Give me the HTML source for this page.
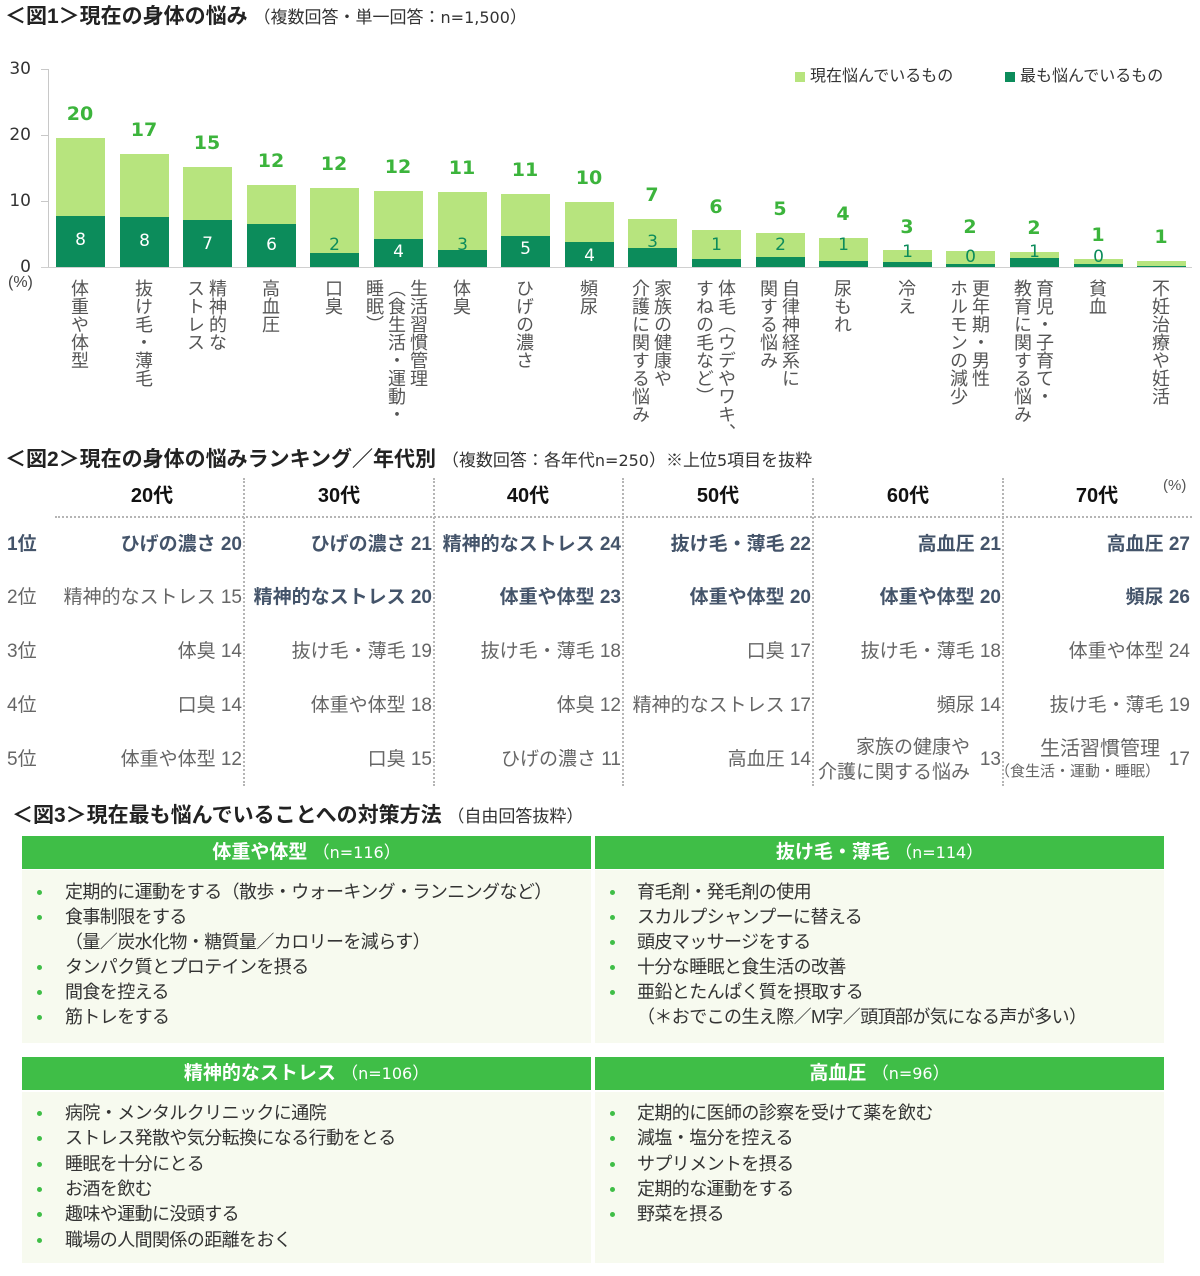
<!DOCTYPE html>
<html><head><meta charset="utf-8">
<style>
*{margin:0;padding:0;box-sizing:border-box}
body{width:1200px;height:1276px;background:#fff;position:relative;overflow:hidden;font-family:"Liberation Sans","Noto Sans CJK JP",sans-serif;color:#333}
.a{position:absolute;white-space:nowrap}
.n{font-family:"DejaVu Sans","Liberation Sans",sans-serif}
.t{font-weight:bold;font-size:21px;line-height:24px;color:#222}
.t span{font-weight:normal;font-size:17px;color:#333}
.yl{position:absolute;left:0;width:31px;text-align:right;font-size:17px;line-height:20px;color:#333;font-family:"DejaVu Sans",sans-serif}
.bl{position:absolute;background:#b7e47e;width:49px}
.bd{position:absolute;background:#0c8c5b;width:49px}
.vt{position:absolute;width:60px;text-align:center;font-weight:bold;font-size:19px;color:#3cb43c;line-height:20px;font-family:"DejaVu Sans",sans-serif}
.vi{position:absolute;width:49px;text-align:center;font-size:17px;line-height:20px;color:#fff;font-family:"DejaVu Sans",sans-serif}
.vi.g{color:#0c8c5b}
.xl{position:absolute;top:279px;writing-mode:vertical-rl;font-size:18px;line-height:22px;color:#555;transform:translateX(-50%);white-space:nowrap}
.vd{position:absolute;top:478px;height:308px;width:0;border-left:2px dotted #b5b5b5}
.hd{position:absolute;font-weight:bold;font-size:20px;line-height:24px;color:#111;width:120px;text-align:center}
.rk{position:absolute;left:7px;font-size:19px;line-height:24px;color:#666}
.c{position:absolute;font-size:19px;line-height:24px;color:#666;text-align:right;white-space:nowrap}
.c.b{font-weight:bold;color:#44546a}
.gh{position:absolute;height:33px;background:#3fbe47;color:#fff;text-align:center;font-size:19px;line-height:33px;font-weight:bold}
.gh span{font-weight:normal;font-size:17px}
.gb{position:absolute;background:#f7faef}
.li{position:absolute;font-size:18px;line-height:25px;color:#333;white-space:nowrap;letter-spacing:-0.6px}
.dot{position:absolute;width:5px;height:5px;border-radius:50%;background:#3fbe47}
</style></head><body>

<!-- Figure 1 -->
<div class="a t" style="left:5px;top:5px">＜図1＞現在の身体の悩み <span>（複数回答・単一回答：<span class="n" style="font-size:16px">n=1,500</span>）</span></div>

<div class="yl" style="top:59px">30</div>
<div class="yl" style="top:125px">20</div>
<div class="yl" style="top:191px">10</div>
<div class="yl" style="top:257px">0</div>
<div class="a" style="left:8px;top:274px;font-size:16px;color:#444">(%)</div>

<div class="a" style="left:48px;top:69px;width:1px;height:198px;background:#c8c8c8"></div>
<div class="a" style="left:41px;top:69px;width:7px;height:1px;background:#c8c8c8"></div>
<div class="a" style="left:41px;top:135px;width:7px;height:1px;background:#c8c8c8"></div>
<div class="a" style="left:41px;top:201px;width:7px;height:1px;background:#c8c8c8"></div>
<div class="a" style="left:41px;top:267px;width:1151px;height:1px;background:#d0d0d0"></div>

<!-- legend -->
<div class="a" style="left:795px;top:72px;width:10px;height:10px;background:#b7e47e"></div>
<div class="a" style="left:810px;top:66px;font-size:16px;line-height:22px;color:#333">現在悩んでいるもの</div>
<div class="a" style="left:1005px;top:72px;width:10px;height:10px;background:#0c8c5b"></div>
<div class="a" style="left:1020px;top:66px;font-size:16px;line-height:22px;color:#333">最も悩んでいるもの</div>

<!-- bars -->
<div class="bl" style="left:56px;top:138px;height:129px"></div><div class="bd" style="left:56px;top:216px;height:51px"></div>
<div class="bl" style="left:120px;top:154px;height:113px"></div><div class="bd" style="left:120px;top:217px;height:50px"></div>
<div class="bl" style="left:183px;top:167px;height:100px"></div><div class="bd" style="left:183px;top:220px;height:47px"></div>
<div class="bl" style="left:247px;top:185px;height:82px"></div><div class="bd" style="left:247px;top:224px;height:43px"></div>
<div class="bl" style="left:310px;top:188px;height:79px"></div><div class="bd" style="left:310px;top:253px;height:14px"></div>
<div class="bl" style="left:374px;top:191px;height:76px"></div><div class="bd" style="left:374px;top:239px;height:28px"></div>
<div class="bl" style="left:438px;top:192px;height:75px"></div><div class="bd" style="left:438px;top:250px;height:17px"></div>
<div class="bl" style="left:501px;top:194px;height:73px"></div><div class="bd" style="left:501px;top:236px;height:31px"></div>
<div class="bl" style="left:565px;top:202px;height:65px"></div><div class="bd" style="left:565px;top:242px;height:25px"></div>
<div class="bl" style="left:628px;top:219px;height:48px"></div><div class="bd" style="left:628px;top:248px;height:19px"></div>
<div class="bl" style="left:692px;top:230px;height:37px"></div><div class="bd" style="left:692px;top:259px;height:8px"></div>
<div class="bl" style="left:756px;top:233px;height:34px"></div><div class="bd" style="left:756px;top:257px;height:10px"></div>
<div class="bl" style="left:819px;top:238px;height:29px"></div><div class="bd" style="left:819px;top:261px;height:6px"></div>
<div class="bl" style="left:883px;top:250px;height:17px"></div><div class="bd" style="left:883px;top:262px;height:5px"></div>
<div class="bl" style="left:946px;top:251px;height:16px"></div><div class="bd" style="left:946px;top:264px;height:3px"></div>
<div class="bl" style="left:1010px;top:252px;height:15px"></div><div class="bd" style="left:1010px;top:258px;height:9px"></div>
<div class="bl" style="left:1074px;top:259px;height:8px"></div><div class="bd" style="left:1074px;top:264px;height:3px"></div>
<div class="bl" style="left:1137px;top:261px;height:6px"></div><div class="bd" style="left:1137px;top:266px;height:1px"></div>

<!-- top value labels -->
<div class="vt" style="left:50px;top:104px">20</div>
<div class="vt" style="left:114px;top:120px">17</div>
<div class="vt" style="left:177px;top:133px">15</div>
<div class="vt" style="left:241px;top:151px">12</div>
<div class="vt" style="left:304px;top:154px">12</div>
<div class="vt" style="left:368px;top:157px">12</div>
<div class="vt" style="left:432px;top:158px">11</div>
<div class="vt" style="left:495px;top:160px">11</div>
<div class="vt" style="left:559px;top:168px">10</div>
<div class="vt" style="left:622px;top:185px">7</div>
<div class="vt" style="left:686px;top:197px">6</div>
<div class="vt" style="left:750px;top:199px">5</div>
<div class="vt" style="left:813px;top:204px">4</div>
<div class="vt" style="left:877px;top:217px">3</div>
<div class="vt" style="left:940px;top:217px">2</div>
<div class="vt" style="left:1004px;top:218px">2</div>
<div class="vt" style="left:1068px;top:225px">1</div>
<div class="vt" style="left:1131px;top:227px">1</div>

<!-- inner labels -->
<div class="vi" style="left:56px;top:230px">8</div>
<div class="vi" style="left:120px;top:231px">8</div>
<div class="vi" style="left:183px;top:234px">7</div>
<div class="vi" style="left:247px;top:235px">6</div>
<div class="vi g" style="left:310px;top:235px">2</div>
<div class="vi" style="left:374px;top:242px">4</div>
<div class="vi g" style="left:438px;top:235px">3</div>
<div class="vi" style="left:501px;top:239px">5</div>
<div class="vi" style="left:565px;top:246px">4</div>
<div class="vi g" style="left:628px;top:232px">3</div>
<div class="vi g" style="left:692px;top:235px">1</div>
<div class="vi g" style="left:756px;top:235px">2</div>
<div class="vi g" style="left:819px;top:235px">1</div>
<div class="vi g" style="left:883px;top:242px">1</div>
<div class="vi g" style="left:946px;top:247px">0</div>
<div class="vi g" style="left:1010px;top:242px">1</div>
<div class="vi g" style="left:1074px;top:247px">0</div>

<!-- x labels -->
<div class="xl" style="left:79px">体重や体型</div>
<div class="xl" style="left:143px">抜け毛・薄毛</div>
<div class="xl" style="left:206px">精神的な<br>ストレス</div>
<div class="xl" style="left:270px">高血圧</div>
<div class="xl" style="left:333px">口臭</div>
<div class="xl" style="left:396px">生活習慣管理<br>（食生活・運動・<br>睡眠）</div>
<div class="xl" style="left:461px">体臭</div>
<div class="xl" style="left:524px">ひげの濃さ</div>
<div class="xl" style="left:588px">頻尿</div>
<div class="xl" style="left:651px">家族の健康や<br>介護に関する悩み</div>
<div class="xl" style="left:715px">体毛（ウデやワキ、<br>すねの毛など）</div>
<div class="xl" style="left:779px">自律神経系に<br>関する悩み</div>
<div class="xl" style="left:842px">尿もれ</div>
<div class="xl" style="left:906px">冷え</div>
<div class="xl" style="left:969px">更年期・男性<br>ホルモンの減少</div>
<div class="xl" style="left:1033px">育児・子育て・<br>教育に関する悩み</div>
<div class="xl" style="left:1097px">貧血</div>
<div class="xl" style="left:1160px">不妊治療や妊活</div>

<!-- Figure 2 -->
<div class="a t" style="left:5px;top:448px">＜図2＞現在の身体の悩みランキング／年代別 <span>（複数回答：各年代<span class="n" style="font-size:16px">n=250</span>）※上位<span class="n" style="font-size:16px">5</span>項目を抜粋</span></div>

<div class="hd" style="left:92px;top:484px">20代</div>
<div class="hd" style="left:279px;top:484px">30代</div>
<div class="hd" style="left:468px;top:484px">40代</div>
<div class="hd" style="left:658px;top:484px">50代</div>
<div class="hd" style="left:848px;top:484px">60代</div>
<div class="hd" style="left:1037px;top:484px">70代</div>
<div class="a" style="left:1163px;top:477px;font-size:15px;color:#555">(%)</div>

<div class="a" style="left:55px;top:516px;width:1137px;height:0;border-top:2px dotted #b5b5b5"></div>
<div class="vd" style="left:243px"></div>
<div class="vd" style="left:433px"></div>
<div class="vd" style="left:622px"></div>
<div class="vd" style="left:812px"></div>
<div class="vd" style="left:1002px"></div>

<div class="rk" style="top:533px;font-weight:bold;color:#44546a">1位</div>
<div class="rk" style="top:586px">2位</div>
<div class="rk" style="top:640px">3位</div>
<div class="rk" style="top:694px">4位</div>
<div class="rk" style="top:748px">5位</div>

<!-- row1 -->
<div class="c b" style="right:958px;top:533px">ひげの濃さ 20</div>
<div class="c b" style="right:768px;top:533px">ひげの濃さ 21</div>
<div class="c b" style="right:579px;top:533px">精神的なストレス 24</div>
<div class="c b" style="right:389px;top:533px">抜け毛・薄毛 22</div>
<div class="c b" style="right:199px;top:533px">高血圧 21</div>
<div class="c b" style="right:10px;top:533px">高血圧 27</div>
<!-- row2 -->
<div class="c" style="right:958px;top:586px">精神的なストレス 15</div>
<div class="c b" style="right:768px;top:586px">精神的なストレス 20</div>
<div class="c b" style="right:579px;top:586px">体重や体型 23</div>
<div class="c b" style="right:389px;top:586px">体重や体型 20</div>
<div class="c b" style="right:199px;top:586px">体重や体型 20</div>
<div class="c b" style="right:10px;top:586px">頻尿 26</div>
<!-- row3 -->
<div class="c" style="right:958px;top:640px">体臭 14</div>
<div class="c" style="right:768px;top:640px">抜け毛・薄毛 19</div>
<div class="c" style="right:579px;top:640px">抜け毛・薄毛 18</div>
<div class="c" style="right:389px;top:640px">口臭 17</div>
<div class="c" style="right:199px;top:640px">抜け毛・薄毛 18</div>
<div class="c" style="right:10px;top:640px">体重や体型 24</div>
<!-- row4 -->
<div class="c" style="right:958px;top:694px">口臭 14</div>
<div class="c" style="right:768px;top:694px">体重や体型 18</div>
<div class="c" style="right:579px;top:694px">体臭 12</div>
<div class="c" style="right:389px;top:694px">精神的なストレス 17</div>
<div class="c" style="right:199px;top:694px">頻尿 14</div>
<div class="c" style="right:10px;top:694px">抜け毛・薄毛 19</div>
<!-- row5 -->
<div class="c" style="right:958px;top:748px">体重や体型 12</div>
<div class="c" style="right:768px;top:748px">口臭 15</div>
<div class="c" style="right:579px;top:748px">ひげの濃さ 11</div>
<div class="c" style="right:389px;top:748px">高血圧 14</div>
<div class="c" style="right:230px;top:735px;line-height:25px">家族の健康や<br>介護に関する悩み</div>
<div class="c" style="right:199px;top:748px">13</div>
<div class="c" style="right:40px;top:737px;font-size:20px">生活習慣管理</div>
<div class="c" style="right:40px;top:762px;font-size:15px;line-height:20px">（食生活・運動・睡眠）</div>
<div class="c" style="right:10px;top:748px">17</div>

<!-- Figure 3 -->
<div class="a t" style="left:12px;top:804px">＜図3＞現在最も悩んでいることへの対策方法 <span>（自由回答抜粋）</span></div>

<div class="gh" style="left:22px;top:836px;width:569px">体重や体型 <span>（<span class="n" style="font-size:16px">n=116</span>）</span></div>
<div class="gh" style="left:595px;top:836px;width:569px">抜け毛・薄毛 <span>（<span class="n" style="font-size:16px">n=114</span>）</span></div>
<div class="gb" style="left:22px;top:870px;width:569px;height:173px"></div>
<div class="gb" style="left:595px;top:870px;width:569px;height:173px"></div>

<div class="gh" style="left:22px;top:1057px;width:569px">精神的なストレス <span>（<span class="n" style="font-size:16px">n=106</span>）</span></div>
<div class="gh" style="left:595px;top:1057px;width:569px">高血圧 <span>（<span class="n" style="font-size:16px">n=96</span>）</span></div>
<div class="gb" style="left:22px;top:1092px;width:569px;height:171px"></div>
<div class="gb" style="left:595px;top:1092px;width:569px;height:171px"></div>

<!-- box1 -->
<div class="dot" style="left:37px;top:890px"></div><div class="li" style="left:65px;top:880px">定期的に運動をする（散歩・ウォーキング・ランニングなど）</div>
<div class="dot" style="left:37px;top:915px"></div><div class="li" style="left:65px;top:905px">食事制限をする</div>
<div class="li" style="left:65px;top:930px">（量／炭水化物・糖質量／カロリーを減らす）</div>
<div class="dot" style="left:37px;top:965px"></div><div class="li" style="left:65px;top:955px">タンパク質とプロテインを摂る</div>
<div class="dot" style="left:37px;top:990px"></div><div class="li" style="left:65px;top:980px">間食を控える</div>
<div class="dot" style="left:37px;top:1015px"></div><div class="li" style="left:65px;top:1005px">筋トレをする</div>

<!-- box2 -->
<div class="dot" style="left:610px;top:890px"></div><div class="li" style="left:637px;top:880px">育毛剤・発毛剤の使用</div>
<div class="dot" style="left:610px;top:915px"></div><div class="li" style="left:637px;top:905px">スカルプシャンプーに替える</div>
<div class="dot" style="left:610px;top:940px"></div><div class="li" style="left:637px;top:930px">頭皮マッサージをする</div>
<div class="dot" style="left:610px;top:965px"></div><div class="li" style="left:637px;top:955px">十分な睡眠と食生活の改善</div>
<div class="dot" style="left:610px;top:990px"></div><div class="li" style="left:637px;top:980px">亜鉛とたんぱく質を摂取する</div>
<div class="li" style="left:637px;top:1005px">（＊おでこの生え際／M字／頭頂部が気になる声が多い）</div>

<!-- box3 -->
<div class="dot" style="left:37px;top:1111px"></div><div class="li" style="left:65px;top:1101px">病院・メンタルクリニックに通院</div>
<div class="dot" style="left:37px;top:1136px"></div><div class="li" style="left:65px;top:1126px">ストレス発散や気分転換になる行動をとる</div>
<div class="dot" style="left:37px;top:1162px"></div><div class="li" style="left:65px;top:1152px">睡眠を十分にとる</div>
<div class="dot" style="left:37px;top:1187px"></div><div class="li" style="left:65px;top:1177px">お酒を飲む</div>
<div class="dot" style="left:37px;top:1212px"></div><div class="li" style="left:65px;top:1202px">趣味や運動に没頭する</div>
<div class="dot" style="left:37px;top:1238px"></div><div class="li" style="left:65px;top:1228px">職場の人間関係の距離をおく</div>

<!-- box4 -->
<div class="dot" style="left:610px;top:1111px"></div><div class="li" style="left:637px;top:1101px">定期的に医師の診察を受けて薬を飲む</div>
<div class="dot" style="left:610px;top:1136px"></div><div class="li" style="left:637px;top:1126px">減塩・塩分を控える</div>
<div class="dot" style="left:610px;top:1162px"></div><div class="li" style="left:637px;top:1152px">サプリメントを摂る</div>
<div class="dot" style="left:610px;top:1187px"></div><div class="li" style="left:637px;top:1177px">定期的な運動をする</div>
<div class="dot" style="left:610px;top:1212px"></div><div class="li" style="left:637px;top:1202px">野菜を摂る</div>

</body></html>
